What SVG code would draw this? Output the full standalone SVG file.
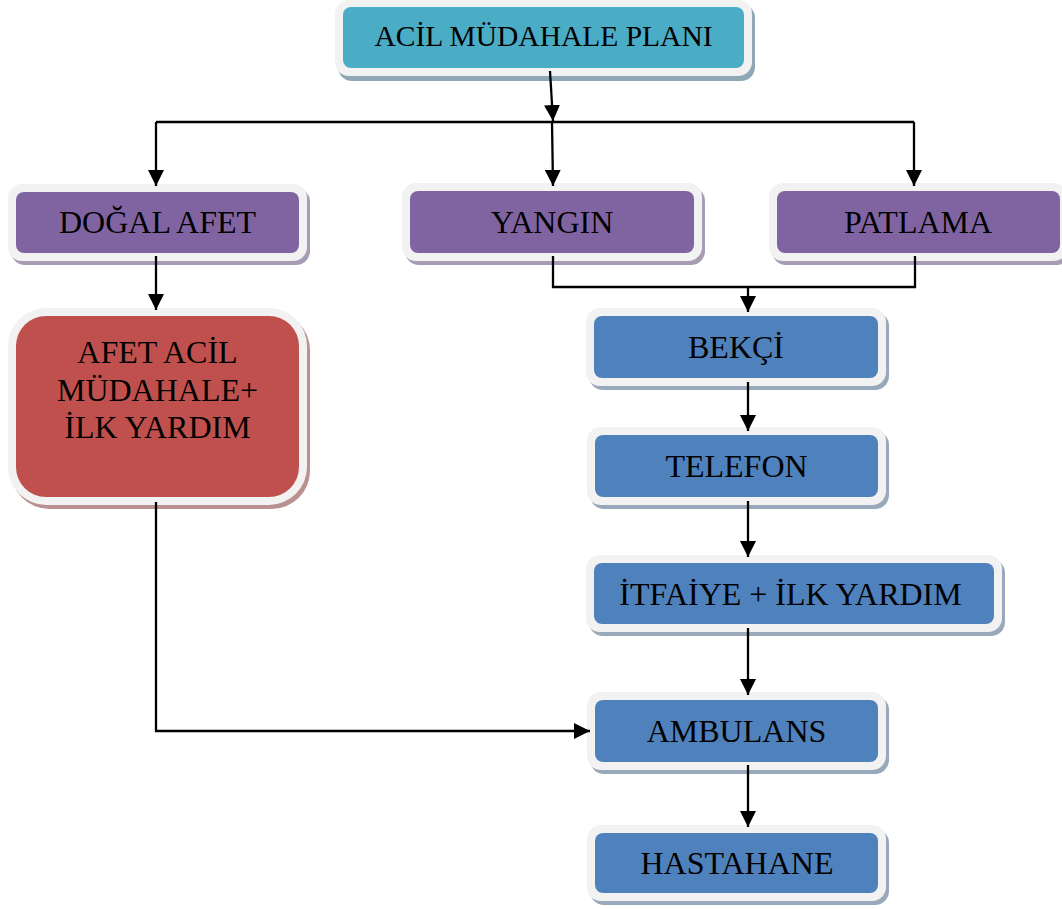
<svg xmlns="http://www.w3.org/2000/svg" width="1062" height="909" viewBox="0 0 1062 909">
<style>
.bd{fill:#F2F2F2}
.t{font-family:"Liberation Serif","Times New Roman",serif;font-size:32px;fill:#000;text-anchor:middle}
.teal{fill:#4BACC6}.tealS{fill:#8EA9B5}
.pur{fill:#8064A2}.purS{fill:#A79CB3}
.red{fill:#C0504D}.redS{fill:#BA9090}
.blu{fill:#4F81BD}.bluS{fill:#99A8BB}
.c{fill:none;stroke:#000;stroke-width:2.3}
</style>
<defs>
<marker id="ah" viewBox="0 0 16 16" refX="16" refY="8" markerWidth="16" markerHeight="16" orient="auto" markerUnits="userSpaceOnUse">
<path d="M0,0 L16,8 L0,16 Z" fill="#000"/>
</marker>
</defs>
<rect width="1062" height="909" fill="#fff"/>

<g id="n-plan">
<rect class="tealS" x="338" y="4" width="417" height="77" rx="14"/>
<rect class="bd" x="335" y="0" width="417" height="76" rx="14"/>
<rect class="teal" x="343" y="7" width="401" height="61" rx="8"/>
<text class="t" x="543.5" y="46" style="font-size:29.5px">ACİL MÜDAHALE PLANI</text>
</g>

<g id="n-dogal">
<rect class="purS" x="11" y="188" width="299" height="77" rx="14"/>
<rect class="bd" x="8" y="184" width="299" height="77" rx="14"/>
<rect class="pur" x="16" y="192" width="283" height="61" rx="8"/>
<text class="t" x="157.5" y="233">DOĞAL AFET</text>
</g>

<g id="n-yangin">
<rect class="purS" x="405" y="187" width="300" height="78" rx="14"/>
<rect class="bd" x="402" y="183" width="300" height="78" rx="14"/>
<rect class="pur" x="410" y="191" width="284" height="62" rx="8"/>
<text class="t" x="552" y="233">YANGIN</text>
</g>

<g id="n-patlama">
<rect class="purS" x="772" y="187" width="299" height="78" rx="14"/>
<rect class="bd" x="769" y="183" width="299" height="78" rx="14"/>
<rect class="pur" x="777" y="191" width="283" height="62" rx="8"/>
<text class="t" x="918" y="233">PATLAMA</text>
</g>

<g id="n-afet">
<rect class="redS" x="11" y="312" width="299" height="197" rx="38"/>
<rect class="bd" x="8" y="308" width="299" height="197" rx="38"/>
<rect class="red" x="16" y="316" width="283" height="181" rx="30"/>
<text class="t" x="157.5" y="363">AFET ACİL</text>
<text class="t" x="157.5" y="400.5">MÜDAHALE+</text>
<text class="t" x="157.5" y="438">İLK YARDIM</text>
</g>

<g id="n-bekci">
<rect class="bluS" x="589" y="312" width="300" height="78" rx="14"/>
<rect class="bd" x="586" y="308" width="300" height="78" rx="14"/>
<rect class="blu" x="594" y="316" width="284" height="62" rx="8"/>
<text class="t" x="736" y="358">BEKÇİ</text>
</g>

<g id="n-telefon">
<rect class="bluS" x="590" y="431" width="299" height="78" rx="14"/>
<rect class="bd" x="587" y="427" width="299" height="78" rx="14"/>
<rect class="blu" x="595" y="435" width="283" height="62" rx="8"/>
<text class="t" x="736.5" y="477">TELEFON</text>
</g>

<g id="n-itfaiye">
<rect class="bluS" x="589" y="559" width="416" height="77" rx="14"/>
<rect class="bd" x="586" y="555" width="416" height="77" rx="14"/>
<rect class="blu" x="594" y="563" width="400" height="61" rx="8"/>
<text class="t" x="790.5" y="605">İTFAİYE + İLK YARDIM</text>
</g>

<g id="n-ambulans">
<rect class="bluS" x="590" y="696" width="299" height="78" rx="14"/>
<rect class="bd" x="587" y="692" width="299" height="78" rx="14"/>
<rect class="blu" x="595" y="700" width="283" height="62" rx="8"/>
<text class="t" x="736.5" y="742">AMBULANS</text>
</g>

<g id="n-hastahane">
<rect class="bluS" x="590" y="829" width="299" height="76" rx="14"/>
<rect class="bd" x="587" y="825" width="299" height="76" rx="14"/>
<rect class="blu" x="595" y="833" width="283" height="60" rx="8"/>
<text class="t" x="737" y="874">HASTAHANE</text>
</g>

<g id="connectors">
<path class="c" d="M550,71 L553,121" marker-end="url(#ah)"/>
<path class="c" d="M156,122 H914"/>
<path class="c" d="M156,122 V186" marker-end="url(#ah)"/>
<path class="c" d="M552,122 L553,186" marker-end="url(#ah)"/>
<path class="c" d="M914,122 V186" marker-end="url(#ah)"/>
<path class="c" d="M156,256 V310" marker-end="url(#ah)"/>
<path class="c" d="M553,256 V287 H915 V256"/>
<path class="c" d="M748,287 V312" marker-end="url(#ah)"/>
<path class="c" d="M748,382 V431" marker-end="url(#ah)"/>
<path class="c" d="M748,501 V557" marker-end="url(#ah)"/>
<path class="c" d="M748,628 V695" marker-end="url(#ah)"/>
<path class="c" d="M748,765 V827" marker-end="url(#ah)"/>
<path class="c" d="M156,502 V731 H590" marker-end="url(#ah)"/>
</g>
</svg>
